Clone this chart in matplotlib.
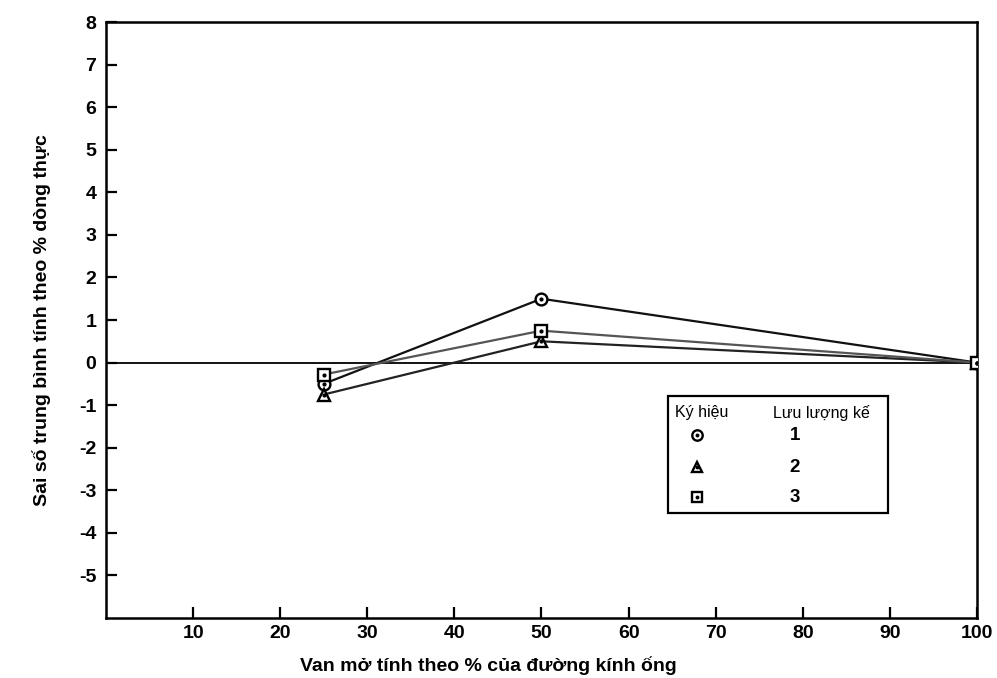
import matplotlib
matplotlib.use("Agg")
import matplotlib.pyplot as plt
from matplotlib.patches import Rectangle

plt.rcParams['font.family'] = ['Liberation Sans', 'DejaVu Sans']
plt.rcParams['axes.unicode_minus'] = False

# --- Data ---
valve_open = [25, 50, 100]
err_flow1 = [-0.5, 1.5, 0.0]    # circle
err_flow2 = [-0.75, 0.5, 0.0]   # triangle
err_flow3 = [-0.28, 0.75, 0.0]  # square

x_ticks = [10, 20, 30, 40, 50, 60, 70, 80, 90, 100]
y_ticks = [-5, -4, -3, -2, -1, 0, 1, 2, 3, 4, 5, 6, 7, 8]

legend_markers = ['o', '^', 's']
legend_labels = ['1', '2', '3']

fig = plt.figure(figsize=(9.97, 6.78), dpi=100)
ax = fig.add_axes([0.1063, 0.0885, 0.8736, 0.879])

ax.set_xlim(0, 100)
ax.set_ylim(-6, 8)

# zero reference line
ax.axhline(0, color='black', lw=1.3, zorder=1)

series = [(err_flow1, 'o', '#111111'), (err_flow2, '^', '#222222'), (err_flow3, 's', '#555555')]
for ys, mk, col in series:
    ax.plot(valve_open, ys, color=col, lw=1.6, zorder=2)
for ys, mk, col in series:
    ax.plot(valve_open, ys, ls='none', marker=mk, ms=8.5, mfc='white', mec='black',
            mew=1.7, zorder=3)
    ax.plot(valve_open, ys, ls='none', marker='o', ms=2, color='black', zorder=4)

# ticks
ax.set_xticks(x_ticks)
ax.set_yticks(y_ticks)
ax.tick_params(direction='in', length=8, width=1.6, labelsize=14, pad=5)
ax.tick_params(axis='y', pad=7)
for lbl in ax.get_xticklabels() + ax.get_yticklabels():
    lbl.set_fontweight('bold')
for s in ax.spines.values():
    s.set_linewidth(1.8)

ax.set_ylabel('Sai số trung bình tính theo % dòng thực', fontsize=14,
              fontweight='bold', labelpad=20)
fig.text(0.49, 0.018, 'Van mở tính theo % của đường kính ống', fontsize=14,
         fontweight='bold', ha='center', va='center')

# legend box
ax.add_patch(Rectangle((0.645, 0.176), 0.253, 0.196, transform=ax.transAxes,
                       fill=True, facecolor='white', edgecolor='black', lw=1.6, zorder=5))
ax.text(0.684, 0.344, 'Ký hiệu', transform=ax.transAxes, ha='center', va='center',
        fontsize=11.5, zorder=6)
ax.text(0.822, 0.344, 'Lưu lượng kế', transform=ax.transAxes, ha='center', va='center',
        fontsize=11.5, zorder=6)
rows_y = [0.307, 0.253, 0.203]
for mk, lab, yy in zip(legend_markers, legend_labels, rows_y):
    ax.plot([0.679], [yy], transform=ax.transAxes, marker=mk, ms=7.5, mfc='white',
            mec='black', mew=1.7, ls='none', zorder=6, clip_on=False)
    ax.plot([0.679], [yy], transform=ax.transAxes, marker='o', ms=1.8, color='black',
            ls='none', zorder=7, clip_on=False)
    ax.text(0.791, yy, lab, transform=ax.transAxes, ha='center', va='center',
            fontsize=13.5, fontweight='bold', zorder=6)

fig.savefig('out.png', dpi=100)
